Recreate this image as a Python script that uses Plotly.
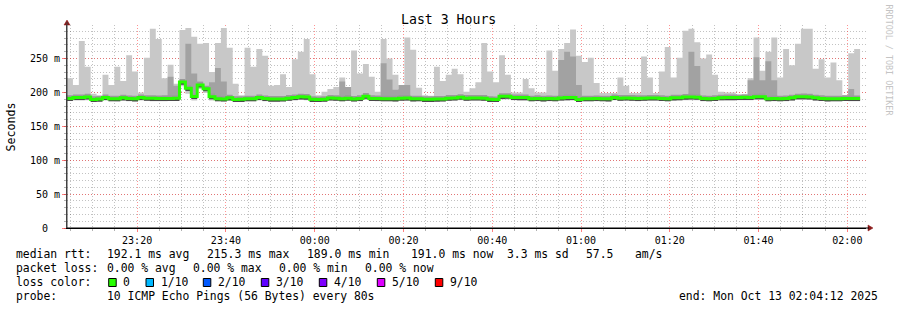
import pandas as pd
import plotly.graph_objects as go

# ---------------- data ----------------
start_time = "2025-10-12 23:04:12"
end_time = "2025-10-13 02:04:12"
step_seconds = 80

rtt_max = [
    221, 211, 276, 238, 198, 196, 226, 211, 238, 217,
    255, 231, 200, 251, 294, 279, 221, 241, 213, 292,
    295, 282, 272, 273, 230, 273, 295, 266, 213, 196,
    266, 238, 264, 254, 210, 211, 227, 208, 249, 260,
    279, 227, 196, 201, 205, 208, 222, 208, 262, 228,
    242, 223, 201, 279, 250, 226, 205, 281, 263, 207,
    196, 195, 238, 217, 226, 235, 227, 201, 206, 215,
    273, 231, 215, 255, 226, 200, 200, 220, 206, 200,
    200, 262, 232, 264, 273, 293, 254, 245, 251, 214,
    199, 199, 199, 222, 210, 199, 199, 253, 222, 199,
    231, 267, 222, 251, 291, 294, 274, 250, 256, 226,
    201, 200, 200, 196, 196, 221, 281, 232, 260, 281,
    222, 264, 240, 272, 294, 294, 235, 249, 222, 244,
    218, 196, 258, 264,
]

median_rtt = [
    191.2, 192.6, 192.6, 193.4, 189.7, 190.2, 192.5, 190.8, 190.8, 192.0,
    191.0, 190.6, 192.6, 191.5, 191.3, 191.0, 191.2, 191.2, 191.3, 215.3,
    206.0, 194.0, 211.0, 205.5, 193.8, 190.8, 190.4, 192.0, 189.7, 189.8,
    190.8, 190.8, 192.6, 191.0, 190.2, 190.2, 190.4, 191.6, 192.5, 193.5,
    193.2, 189.8, 189.6, 190.0, 191.8, 191.5, 190.8, 191.6, 190.4, 191.2,
    194.5, 191.2, 191.0, 190.8, 190.8, 190.6, 191.6, 191.8, 190.6, 190.8,
    189.8, 189.8, 190.2, 190.4, 191.6, 191.8, 193.0, 191.6, 191.8, 191.8,
    191.6, 189.8, 189.6, 194.2, 194.4, 192.6, 192.4, 192.4, 190.8, 191.2,
    190.6, 191.0, 190.8, 191.8, 192.4, 192.6, 189.6, 190.8, 190.8, 191.0,
    190.8, 190.6, 192.6, 191.6, 191.8, 191.6, 191.2, 191.4, 191.8, 191.8,
    191.2, 190.8, 192.0, 192.2, 193.2, 193.4, 193.0, 191.0, 190.8, 191.2,
    192.2, 192.4, 192.4, 192.6, 192.8, 192.6, 193.6, 193.8, 190.8, 191.0,
    190.8, 191.0, 192.0, 193.6, 193.8, 193.4, 192.0, 191.2, 190.6, 190.8,
    190.8, 191.2, 191.0, 191.0,
]

rtt_min = [
    187.5, 188, 188, 188.5, 186.5, 187, 188, 187, 186.5, 188,
    187, 187, 188, 187.5, 187, 187, 187, 187.5, 187.5, 209,
    198, 188, 205, 199, 188, 187, 186.5, 188, 186.5, 186.5,
    187, 187, 188, 187, 186.5, 186.5, 187, 187.5, 188, 189,
    188.5, 186, 186, 186.5, 188, 187.5, 187, 187.5, 186.5, 187,
    189, 187.5, 187, 187, 187, 186.5, 188, 187.5, 187, 187,
    186, 186, 186.5, 186.5, 187.5, 188, 188.5, 187.5, 188, 188,
    187.5, 186, 186, 189.5, 189.5, 188.5, 188, 188, 187, 187,
    186.5, 187, 187, 187.5, 188, 188, 186, 187, 187, 187,
    187, 186.5, 188.5, 187.5, 188, 187.5, 187, 187.5, 188, 188,
    187.5, 187, 188, 188, 188.5, 188.5, 188.5, 187, 187, 187.5,
    188, 188.5, 188.5, 188.5, 188.5, 188.5, 189, 189, 187, 187,
    187, 187, 188, 189, 189, 189, 188, 187.5, 187, 187,
    187, 187.5, 187, 187,
]

N = None
dense_smoke_top = [
    N, N, N, N, N, N, N, N, N, N,
    N, N, N, N, N, N, N, 223, 210, N,
    272, 228, 216, N, 215, 236, 216, N, N, N,
    N, N, N, N, N, N, N, N, N, N,
    N, N, N, N, N, N, 216, 208, N, N,
    N, N, N, 243, 219, 204, 211, 211, N, N,
    N, N, N, N, N, N, N, N, N, N,
    N, N, N, N, N, N, N, N, N, N,
    N, N, N, 248, 260, 253, 211, N, N, N,
    N, N, N, N, N, N, N, N, N, N,
    N, N, N, N, N, 260, 239, N, N, N,
    N, N, N, N, N, 218, 252, 218, 246, 218,
    N, N, N, N, N, N, N, N, N, N,
    N, N, 205, N,
]

y_tick_values = [0, 50, 100, 150, 200, 250]
y_tick_labels = ["0\u00a0\u00a0", "50 m", "100 m", "150 m", "200 m", "250 m"]

loss_labels = ["0", "1/10", "2/10", "3/10", "4/10", "5/10", "9/10"]
loss_colors = ["#26ff00", "#00b8ff", "#0059ff", "#5e00ff", "#7e00ff", "#dd00ff", "#ff0000"]

stats_line1 = ["median rtt:", "192.1 ms avg", "215.3 ms max", "189.0 ms min",
               "191.0 ms now", "3.3 ms sd", "57.5", "am/s"]
stats_line2 = ["packet loss:", "0.00 % avg", "0.00 % max", "0.00 % min", "0.00 % now"]
probe_text = "10 ICMP Echo Pings (56 Bytes) every 80s"
end_text = "end: Mon Oct 13 02:04:12 2025"

# ---------------- step series helpers ----------------
n = len(median_rtt)
t0 = pd.Timestamp(start_time)
step = pd.Timedelta(seconds=step_seconds)
starts = [t0 + i * step for i in range(n)]
xs = starts + [starts[-1] + step]


def stepped(vals):
    return list(vals) + [vals[-1]]


fig = go.Figure()


def band(lower, upper, color):
    fig.add_trace(go.Scatter(x=xs, y=stepped(lower), mode="lines",
                             line=dict(width=0, shape="hv"), hoverinfo="skip"))
    fig.add_trace(go.Scatter(x=xs, y=stepped(upper), mode="lines",
                             line=dict(width=0, shape="hv"), fill="tonexty",
                             fillcolor=color, hoverinfo="skip"))


# outer smoke (min..max)
band(rtt_min, rtt_max, "#c8c8c8")
# denser smoke where visible
dense_top = [d if d is not None else m for m, d in zip(median_rtt, dense_smoke_top)]
band(median_rtt, dense_top, "#a2a2a2")
# smoke core around the median
band([m - 2.0 for m in median_rtt], [m + 4.5 for m in median_rtt], "#9a9a9a")
band([m - 3.8 for m in median_rtt], [m - 0.8 for m in median_rtt], "#4a4a4a")

# median line coloured by loss (0 loss -> green)
fig.add_trace(go.Scatter(
    x=xs, y=stepped(median_rtt), mode="lines",
    line=dict(color=loss_colors[0], width=3, shape="hv"), hoverinfo="skip"))

# ---------------- layout ----------------
L, R, T, B = 67, 866, 25, 228
W, H = 897, 310


def px(xp):
    return (xp - L) / (R - L)


def py(yp):
    return (B - yp) / (B - T)


mono = "DejaVu Sans Mono"
grid_major = "rgba(255,40,40,0.5)"
grid_minor = "rgba(0,0,0,0.24)"
dots = "1px,2px"

fig.update_layout(
    width=W, height=H,
    margin=dict(l=L, r=W - R, t=T, b=H - B),
    paper_bgcolor="white", plot_bgcolor="white",
    showlegend=False,
    font=dict(family=mono, color="black"),
)

fig.update_xaxes(
    type="date", range=[start_time, end_time],
    tick0="2025-10-12 23:20:00", dtick=20 * 60 * 1000, tickformat="%H:%M",
    showgrid=True, gridcolor=grid_major, griddash=dots, gridwidth=1,
    ticks="outside", ticklen=3, tickcolor="rgba(255,0,0,0.5)",
    minor=dict(tick0="2025-10-12 23:05:00", dtick=5 * 60 * 1000, showgrid=True,
               gridcolor=grid_minor, griddash=dots, ticks="outside",
               ticklen=2, tickcolor="rgba(0,0,0,0.3)"),
    showline=True, linecolor="black", linewidth=1, zeroline=False,
    tickfont=dict(family=mono, size=10, color="black"),
)

fig.update_yaxes(
    range=[0, 299.5], tickvals=y_tick_values, ticktext=y_tick_labels,
    showgrid=True, gridcolor=grid_major, griddash=dots, gridwidth=1,
    ticks="outside", ticklen=4, tickcolor="rgba(255,0,0,0.5)",
    minor=dict(dtick=10, showgrid=True, gridcolor=grid_minor,
               griddash=dots, ticks="outside", ticklen=2,
               tickcolor="rgba(0,0,0,0.3)"),
    showline=True, linecolor="#404040", linewidth=1, zeroline=False,
    tickfont=dict(family=mono, size=10, color="black"),
)

ann = []


def text(x, y, s, size=11.4, color="black", xanchor="left", angle=0):
    ann.append(dict(x=px(x), y=py(y), xref="paper", yref="paper", text=s,
                    showarrow=False, xanchor=xanchor, yanchor="middle",
                    font=dict(family=mono, size=size, color=color),
                    textangle=angle, borderpad=0, borderwidth=0))


text(448.5, 19.5, "Last 3 Hours", size=13.2, xanchor="center")
text(10.5, 127, "Seconds", size=11.6, xanchor="center", angle=-90)
text(888.5, 60, "RRDTOOL / TOBI OETIKER", size=8.4, color="#c4c4c4",
     xanchor="center", angle=90)

for s, x in zip(stats_line1, [16, 107.3, 207.3, 306.7, 410.7, 506.7, 586, 635.3]):
    text(x, 254.3, s)
for s, x in zip(stats_line2, [16, 107.3, 193.3, 279.3, 365.3]):
    text(x, 268.3, s)
text(16, 282.3, "loss color:")
box_x = [108.7, 146, 203.3, 261.3, 319.3, 377.3, 435.3]
label_x = [123.3, 160.7, 218.3, 276, 334, 391.7, 450]
shapes = []
for lab, col, bx, lx in zip(loss_labels, loss_colors, box_x, label_x):
    text(lx, 282.3, lab)
    shapes.append(dict(type="rect", xref="paper", yref="paper",
                       x0=px(bx), x1=px(bx + 7.5), y0=py(286.5), y1=py(278.5),
                       fillcolor=col, line=dict(color="black", width=1)))
text(16, 296.3, "probe:")
text(107.3, 296.3, probe_text)
text(678.7, 296.3, end_text)

# axis arrows
shapes.append(dict(type="path", xref="paper", yref="paper",
                   path=f"M {px(64)} {py(25)} L {px(70)} {py(25)} L {px(67)} {py(20)} Z",
                   fillcolor="#8b1a1a", line=dict(color="#8b1a1a", width=0.5)))
shapes.append(dict(type="line", xref="paper", yref="paper",
                   x0=px(67), x1=px(67), y0=py(228), y1=py(22),
                   line=dict(color="#404040", width=1)))
shapes.append(dict(type="path", xref="paper", yref="paper",
                   path=f"M {px(868)} {py(225)} L {px(868)} {py(231)} L {px(873)} {py(228)} Z",
                   fillcolor="#8b1a1a", line=dict(color="#8b1a1a", width=0.5)))
shapes.append(dict(type="line", xref="paper", yref="paper",
                   x0=px(67), x1=px(869), y0=py(228), y1=py(228),
                   line=dict(color="black", width=1)))

fig.update_layout(annotations=ann, shapes=shapes)

fig.write_html("out.html")
